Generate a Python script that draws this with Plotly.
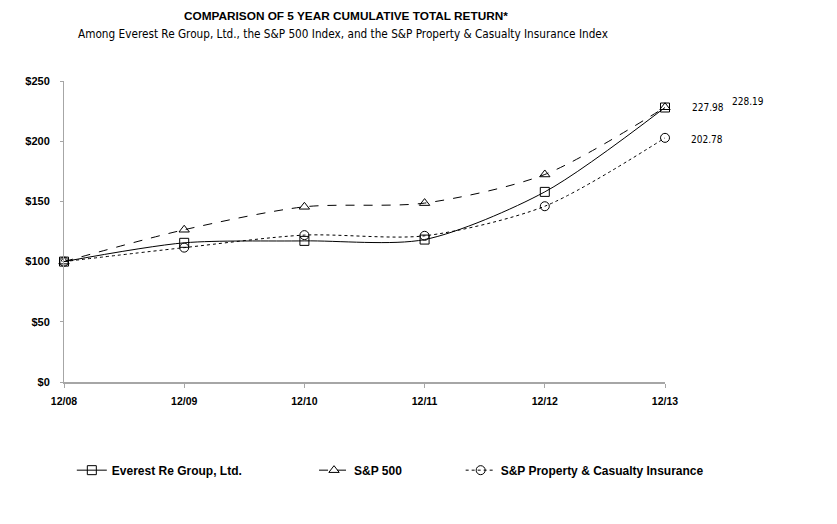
import plotly.graph_objects as go

# -----------------------------
# Data
# -----------------------------
periods = ["12/08", "12/09", "12/10", "12/11", "12/12", "12/13"]
everest = [100, 115.6, 117.2, 118.3, 157.9, 227.98]
sp500 = [100, 126.46, 145.51, 148.59, 172.37, 228.19]
sp_pc = [100, 111.6, 122.0, 121.4, 146.0, 202.78]
y_ticks = [0, 50, 100, 150, 200, 250]
y_tick_labels = ["$0", "$50", "$100", "$150", "$200", "$250"]

series = [
    ("Everest Re Group, Ltd.", everest, "solid", "square-open", "legend", 0.013),
    ("S&P 500", sp500, "dash", "triangle-up-open", "legend2", 0.416),
    ("S&P Property & Casualty Insurance", sp_pc, "dot", "circle-open", "legend3", 0.66),
]

fig = go.Figure()
for name, vals, dash, sym, leg, _ in series:
    fig.add_trace(go.Scatter(
        x=periods, y=vals, name=name, mode="lines+markers",
        line=dict(color="black", width=1, dash=dash, shape="spline", smoothing=0.8),
        marker=dict(symbol=sym, size=9, color="black", line=dict(width=1)),
        cliponaxis=False, legend=leg,
    ))

# end-point value labels
label_font = dict(family="DejaVu Sans Condensed, Liberation Sans", size=10, color="black")
fig.add_annotation(x=periods[-1], y=everest[-1], text=f"{everest[-1]:.2f}", showarrow=False,
                   xanchor="left", xshift=25, yshift=0, font=label_font)
fig.add_annotation(x=periods[-1], y=sp500[-1], text=f"{sp500[-1]:.2f}", showarrow=False,
                   xanchor="left", xshift=65, yshift=6, font=label_font)
fig.add_annotation(x=periods[-1], y=sp_pc[-1], text=f"{sp_pc[-1]:.2f}", showarrow=False,
                   xanchor="left", xshift=24, yshift=-2, font=label_font)

# titles
fig.add_annotation(text="<b>COMPARISON OF 5 YEAR CUMULATIVE TOTAL RETURN*</b>",
                   xref="paper", yref="paper", x=0.469, y=1.216, xanchor="center", yanchor="middle",
                   showarrow=False, font=dict(family="Liberation Sans", size=11.8, color="black"))
fig.add_annotation(text="Among Everest Re Group, Ltd., the S&P 500 Index, and the S&P Property & Casualty Insurance Index",
                   xref="paper", yref="paper", x=0.464, y=1.156, xanchor="center", yanchor="middle",
                   showarrow=False, font=dict(family="DejaVu Sans Condensed", size=11.7, color="black"))

legend_font = dict(family="Liberation Sans", size=12, color="black", weight="bold")
legend_style = dict(orientation="h", yref="container", y=0.118, yanchor="middle",
                    xanchor="left", font=legend_font, bgcolor="rgba(0,0,0,0)", itemwidth=30)
leg_layout = {}
for name, vals, dash, sym, leg, lx in series:
    leg_layout[leg] = dict(x=lx, **legend_style)

fig.update_layout(
    width=837, height=524,
    margin=dict(l=56, r=180, t=73, b=150),
    plot_bgcolor="white", paper_bgcolor="white",
    showlegend=True,
    **leg_layout,
    xaxis=dict(
        type="category", range=[0, 5], showgrid=False, zeroline=False,
        showline=True, linecolor="#a6a6a6", linewidth=2,
        ticks="outside", tickcolor="#a6a6a6", ticklen=4,
        tickfont=dict(family="Liberation Sans", size=10.5, color="black", weight="bold"),
        ticklabelstandoff=4,
        automargin=False,
    ),
    yaxis=dict(
        range=[0, 250], tickvals=y_ticks, ticktext=y_tick_labels,
        showgrid=False, zeroline=False,
        showline=True, linecolor="#a6a6a6", linewidth=1,
        ticks="outside", tickcolor="#a6a6a6", ticklen=3,
        tickfont=dict(family="Liberation Sans", size=11, color="black", weight="bold"),
        ticklabelstandoff=8,
        automargin=False,
    ),
)

fig.write_html("out.html")
